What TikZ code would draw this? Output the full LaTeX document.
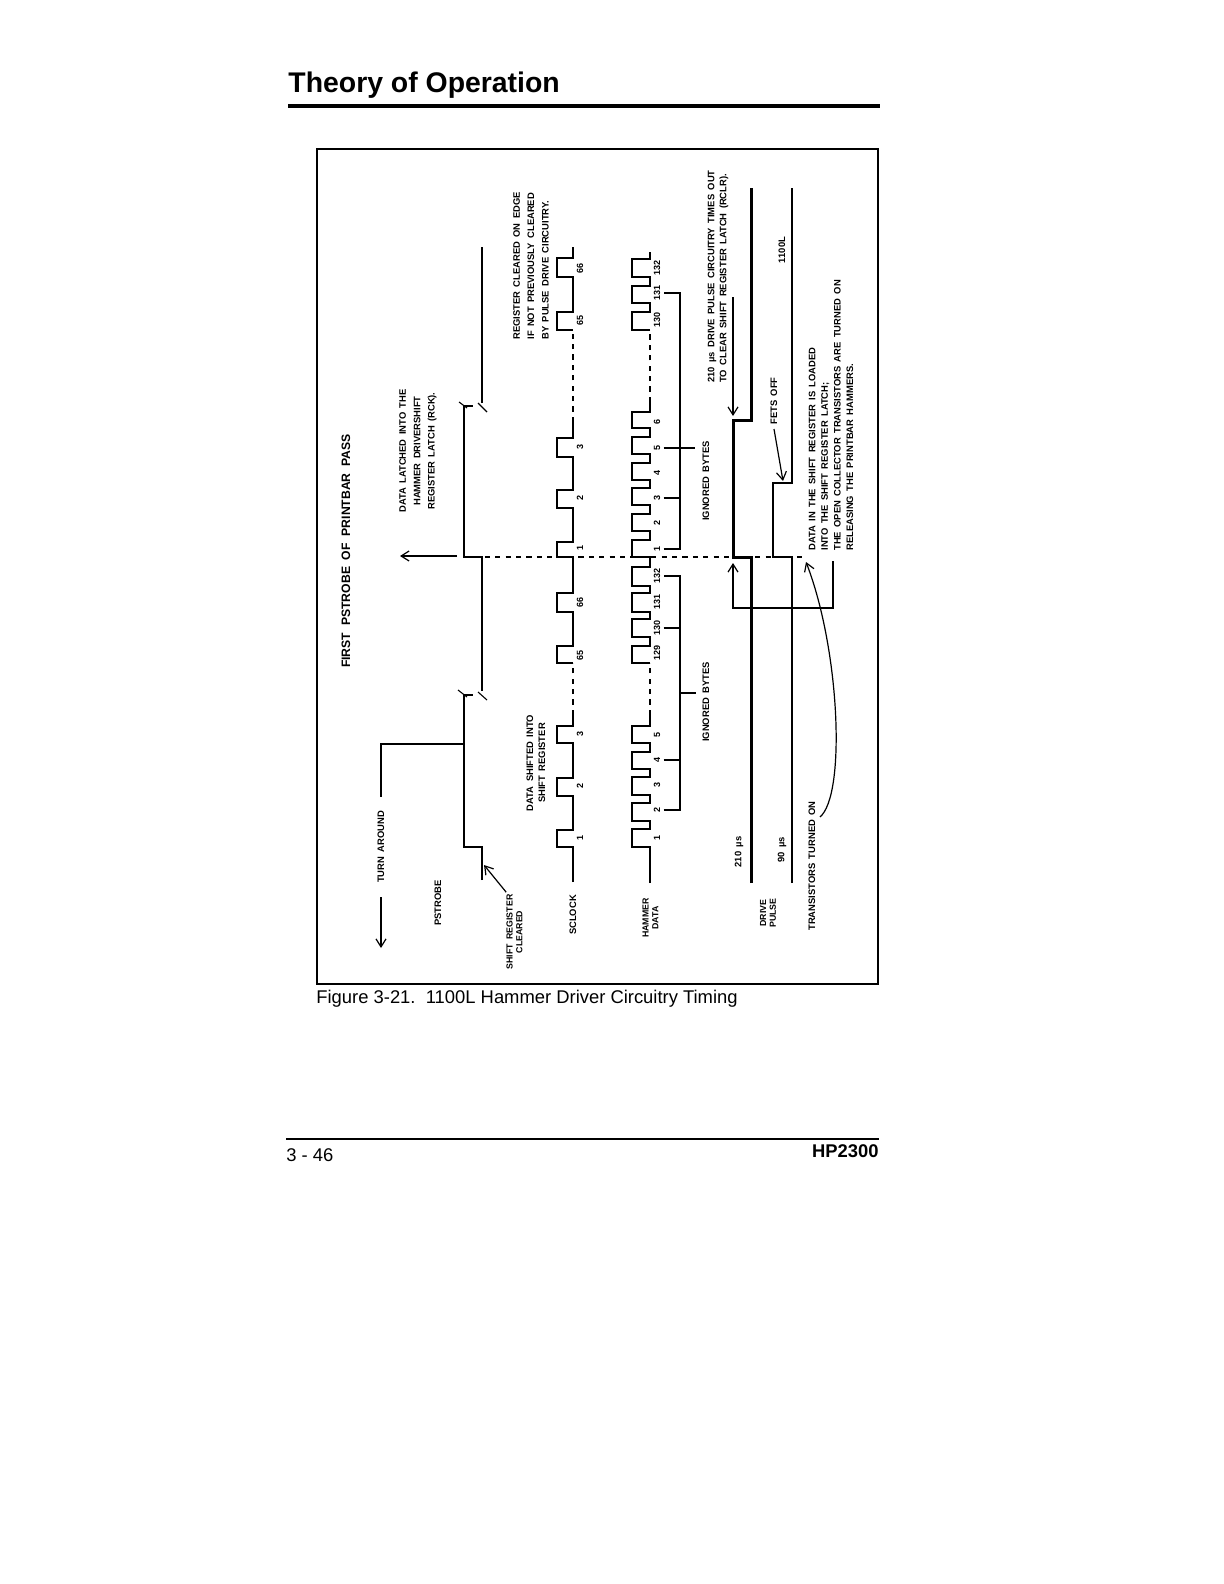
\documentclass[tikz,border=0pt]{standalone}
\usepackage{fontspec}
\setmainfont{Liberation Sans}
\usetikzlibrary{arrows.meta}

\begin{document}
\begin{tikzpicture}[x=0.5pt, y=-0.5pt,
      lbl/.style={rotate=90, inner sep=0pt, align=center, font=\fontsize{4.7}{6}\selectfont\bfseries, execute at begin node={\spaceskip=2.2pt}},
      wide/.style={lbl, font=\fontsize{4.7}{7.2}\selectfont\bfseries},
      tight/.style={lbl, font=\fontsize{4.4}{4.8}\selectfont\bfseries},
      num/.style={rotate=90, inner xsep=0pt, inner ysep=1.5pt, font=\fontsize{4.5}{5}\selectfont\bfseries},
      wave/.style={line width=1.3pt, line join=miter},
      heavy/.style={line width=1.5pt, line join=miter},
      conn/.style={line width=0.55pt},
      gap/.style={line width=0.55pt, dash pattern=on 2.6pt off 2.6pt},
      arr/.style={-{Straight Barb[length=4pt, width=5pt]}, line width=0.6pt}]
    \useasboundingbox (0,0) rectangle (1224,1584);
    \node[anchor=west, inner sep=0pt, font=\fontsize{14.2}{16}\selectfont\bfseries] (title) at (288,85) {Theory of Operation};
    \fill (288,104) rectangle (880,108.5);
    \draw[line width=1pt] (316.5,149) rectangle (878,984);
    \node[anchor=west, inner sep=0pt, font=\fontsize{9.2}{11}\selectfont] (caption) at (316,999) {Figure 3-21.\ \ 1100L Hammer Driver Circuitry Timing};
    \draw[conn] (286,1139) -- (879,1139);
    \node[anchor=west, inner sep=0pt, font=\fontsize{9.2}{11}\selectfont] (page) at (286,1155) {3 - 46};
    \node[anchor=east, inner sep=0pt, font=\fontsize{9.2}{11}\selectfont\bfseries] (model) at (879,1151) {HP2300};

    \node[rotate=90, inner sep=0pt, font=\fontsize{6.1}{7}\selectfont\bfseries, execute at begin node={\spaceskip=3.4pt}] (pass) at (346,551) {FIRST PSTROBE OF PRINTBAR PASS};
    \node[wide] (latched) at (418,451) {DATA LATCHED INTO THE\\ HAMMER DRIVERSHIFT\\ REGISTER LATCH (RCK).};
    \node[wide, anchor=west, align=left] (edge) at (531,340) {REGISTER CLEARED ON EDGE\\ IF NOT PREVIOUSLY CLEARED\\ BY PULSE DRIVE CIRCUITRY.};
    \node[lbl, anchor=west, align=left] (times) at (718,383) {210 µs DRIVE PULSE CIRCUITRY TIMES OUT\\ TO CLEAR SHIFT REGISTER LATCH (RCLR).};
    \node[lbl, anchor=west, align=left, font=\fontsize{4.7}{6.3}\selectfont\bfseries] (loaded) at (831,551) {DATA IN THE SHIFT REGISTER IS LOADED\\ INTO THE SHIFT REGISTER LATCH;\\ THE OPEN COLLECTOR TRANSISTORS ARE TURNED ON\\ RELEASING THE PRINTBAR HAMMERS.};
    \node[lbl, inner xsep=7pt] (turn) at (381,847) {TURN AROUND};
    \node[lbl] (pstrobe) at (438,903) {PSTROBE};
    \node[tight, inner xsep=1pt] (cleared) at (514.5,932) {SHIFT REGISTER\\ CLEARED};
    \node[lbl] (sclock) at (573,915) {SCLOCK};
    \node[lbl] (shifted) at (536,763) {DATA SHIFTED INTO\\ SHIFT REGISTER};
    \node[tight] (hammer) at (650.5,918) {HAMMER\\ DATA};
    \node[tight] (drive) at (768,913) {DRIVE\\ PULSE};
    \node[lbl] (ignuplbl) at (706,481) {IGNORED BYTES};
    \node[lbl] (ignlowlbl) at (706,702) {IGNORED BYTES};
    \node[lbl] (t210) at (739,852) {210 µs};
    \node[lbl] (t90) at (782,850) {90 µs};
    \node[lbl] (l1100) at (782,250) {1100L};
    \node[lbl, inner xsep=2pt] (fets) at (774,401) {FETS OFF};
    \node[lbl] (turnedon) at (812,866) {TRANSISTORS TURNED ON};

    \draw[wave] (482,880) -- (482,847) -- (464,847) -- (464,695) -- (473,695);
    \draw[wave] (482,691) -- (482,557) -- (464,557) -- (464,406) -- (473,406);
    \draw[wave] (482,403) -- (482,247);
    \draw[conn] (458,690) -- (467,697);
    \draw[conn] (478,692) -- (487,700);
    \draw[conn] (459,402) -- (467,408);
    \draw[conn] (478,403) -- (487,412);

    \draw[wave] (573,882) \foreach \a/\b in {847/830, 796/778, 743/726} { -- (573,\a) -- (557,\a) -- (557,\b) -- (573,\b) } -- (573,715);
    \draw[gap] (573,715) -- (573,663);
    \draw[wave] (573,663) \foreach \a/\b in {663/646, 612/593} { -- (573,\a) -- (557,\a) -- (557,\b) -- (573,\b) } -- (573,557)
       \foreach \a/\b in {557/542, 508/490, 457/438} { -- (573,\a) -- (557,\a) -- (557,\b) -- (573,\b) } -- (573,422);
    \draw[gap] (573,422) -- (573,330);
    \draw[wave] (573,330) \foreach \a/\b in {330/312, 277/258} { -- (573,\a) -- (557,\a) -- (557,\b) -- (573,\b) } -- (573,247);
    \foreach \y/\t in {838/1, 786/2, 734/3, 655/65, 602/66}
      \node[num] (sl\t) at (580,\y) {\t};
    \foreach \y/\t in {548/1, 498/2, 447/3, 320/65, 268/66}
      \node[num] (su\t) at (580,\y) {\t};

    \draw[wave] (650,883) \foreach \a/\b in {847/829, 821/803, 795/777, 769/752, 743/726} { -- (650,\a) -- (632,\a) -- (632,\b) -- (650,\b) } -- (650,715);
    \draw[gap] (650,715) -- (650,663);
    \draw[wave] (650,663) \foreach \a/\b in {663/646, 637/619, 612/593, 586/567} { -- (650,\a) -- (632,\a) -- (632,\b) -- (650,\b) } -- (650,557)
       \foreach \a/\b in {557/540, 531/514, 505/488, 480/463, 454/437, 428/412} { -- (650,\a) -- (632,\a) -- (632,\b) -- (650,\b) } -- (650,402);
    \draw[gap] (650,402) -- (650,330);
    \draw[wave] (650,330) \foreach \a/\b in {330/312, 303/286, 277/259} { -- (650,\a) -- (632,\a) -- (632,\b) -- (650,\b) } -- (650,252);
    \foreach \y/\t in {838/1, 810/2, 785/3, 760/4, 735/5, 653/129, 628/130, 602/131, 576/132}
      \node[num] (hl\t) at (657,\y) {\t};
    \foreach \y/\t in {549/1, 523/2, 498/3, 473/4, 448/5, 422/6, 320/130, 293/131, 268/132}
      \node[num] (hu\t) at (657,\y) {\t};

    \coordinate (ubar) at (680,400);
    \coordinate (lbar) at (680,693);
    \draw[conn] (hu1.south) -| (ubar) |- (hu131.south);
    \draw[conn] (hu3.south) -- (hu3.south -| ubar);
    \draw[conn] (hu5.south) -- ++(31,0);
    \draw[conn] (hl2.south) -| (lbar) |- (hl132.south);
    \draw[conn] (hl4.south) -- (hl4.south -| lbar);
    \draw[conn] (hl130.south) -- (hl130.south -| lbar);
    \draw[conn] (lbar) -- ++(16,0);

    \draw[heavy] (751,883) -- (751,557) -- (733,557) -- (733,420) -- (751,420) -- (751,188);
    \draw[wave] (792,883) -- (792,557) -- (773,557) -- (773,483) -- (792,483) -- (792,188);
    \draw[gap] (464,557) -- (806,557);

    \coordinate (latchtail) at (457,556);
    \coordinate (latchtip) at (400,556);
    \draw[arr] (latchtail) -- (latchtip);
    \coordinate (turntap) at (464,744);
    \coordinate (turntip) at (381,948);
    \draw[conn] (turntap) -| (turn.east);
    \draw[arr] (turn.west) -- (turntip);
    \coordinate (cleartip) at (484,865);
    \draw[arr] (cleared.north east) -- (cleartip);
    \coordinate (timestail) at (733,297);
    \coordinate (timestip) at (733,416);
    \draw[arr] (timestail) -- (timestip);
    \coordinate (fetstip) at (783,481);
    \draw[arr] (fets.west) -- (fetstip);
    \coordinate (loopstart) at (833,561);
    \coordinate (loopmid) at (733,608);
    \coordinate (looptip) at (733,563);
    \draw[arr] (loopstart) |- (loopmid) -- (looptip);
    \coordinate (ontail) at (820,817);
    \coordinate (ontip) at (806,562);
    \draw[arr] (ontail) .. controls (846,795) and (840,650) .. (ontip);
  \end{tikzpicture}
\end{document}
